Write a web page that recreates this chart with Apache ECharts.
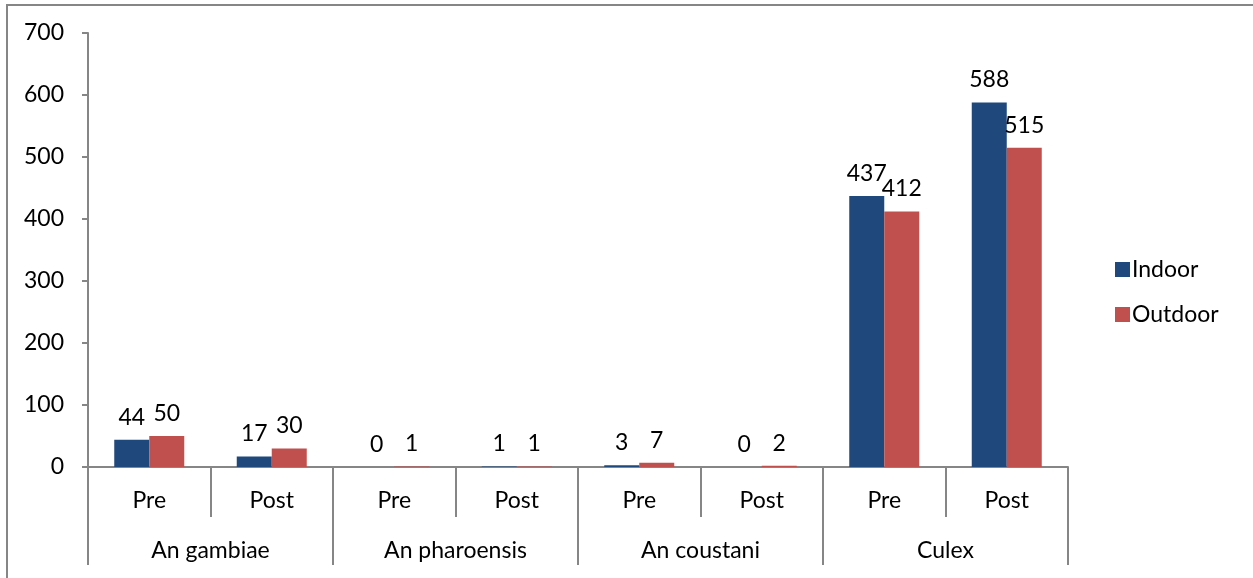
<!DOCTYPE html>
<html>
<head>
<meta charset="utf-8">
<script src="https://cdn.jsdelivr.net/npm/echarts@6/dist/echarts.min.js"></script>
<style>
  html, body { margin: 0; padding: 0; background: #fff; }
  #frame { position: absolute; left: 6px; top: 4px; width: 1253px; height: 580px;
           border-top: 2px solid #868686; border-left: 2px solid #868686; box-sizing: border-box; }
  #chart { position: absolute; left: 0; top: 0; width: 1253px; height: 578px; }
</style>
</head>
<body>
<div id="frame"></div>
<div id="chart"></div>
<script>
// Mosquito counts by species, before and after, indoor vs outdoor
const species = ['An gambiae', 'An pharoensis', 'An coustani', 'Culex'];
const periods = ['Pre', 'Post', 'Pre', 'Post', 'Pre', 'Post', 'Pre', 'Post'];
const indoor  = [44, 17, 0, 1, 3, 0, 437, 588];
const outdoor = [50, 30, 1, 1, 7, 2, 412, 515];
const yTicks  = { min: 0, max: 700, interval: 100 };

const FONT = 'Lato';
const FS = 23;
const AXIS_GREY = '#868686';

const chart = echarts.init(document.getElementById('chart'), null, { renderer: 'canvas' });

const labelStyle = {
  show: true,
  position: 'top',
  distance: 11,
  color: '#000',
  fontFamily: FONT,
  fontSize: FS
};

chart.setOption({
  animation: false,
  textStyle: { fontFamily: FONT },
  grid: { left: 88, right: 185, top: 33, bottom: 111, containLabel: false },
  legend: {
    orient: 'vertical',
    left: 1110,
    top: 253,
    itemWidth: 15,
    itemHeight: 15,
    itemGap: 22,
    icon: 'rect',
    textStyle: { fontFamily: FONT, fontSize: FS, color: '#000', padding: [0, 0, 0, -3] },
    data: ['Indoor', 'Outdoor']
  },
  xAxis: [
    {
      type: 'category',
      data: periods,
      position: 'bottom',
      axisLine: { show: true, lineStyle: { color: AXIS_GREY, width: 2 } },
      axisTick: { show: true, interval: 0, length: 50, lineStyle: { color: AXIS_GREY, width: 2 } },
      axisLabel: { interval: 0, margin: 22, color: '#000', fontFamily: FONT, fontSize: FS },
      splitLine: { show: false }
    },
    {
      type: 'category',
      data: species,
      position: 'bottom',
      axisLine: { show: false },
      axisTick: { show: true, interval: 0, length: 98, lineStyle: { color: AXIS_GREY, width: 2 } },
      axisLabel: { interval: 0, margin: 72, color: '#000', fontFamily: FONT, fontSize: FS },
      splitLine: { show: false }
    }
  ],
  yAxis: {
    type: 'value',
    min: yTicks.min,
    max: yTicks.max,
    interval: yTicks.interval,
    axisLine: { show: true, lineStyle: { color: AXIS_GREY, width: 2 } },
    axisTick: { show: true, length: 6, lineStyle: { color: AXIS_GREY, width: 2 } },
    axisLabel: { margin: 24, color: '#000', fontFamily: FONT, fontSize: FS },
    splitLine: { show: false }
  },
  series: [
    {
      name: 'Indoor',
      type: 'bar',
      xAxisIndex: 0,
      data: indoor,
      barWidth: 35,
      barGap: '0%',
      itemStyle: { color: '#1F497D' },
      label: labelStyle
    },
    {
      name: 'Outdoor',
      type: 'bar',
      xAxisIndex: 0,
      data: outdoor,
      barWidth: 35,
      barGap: '0%',
      itemStyle: { color: '#C0504D' },
      label: labelStyle
    }
  ]
});
</script>
</body>
</html>
